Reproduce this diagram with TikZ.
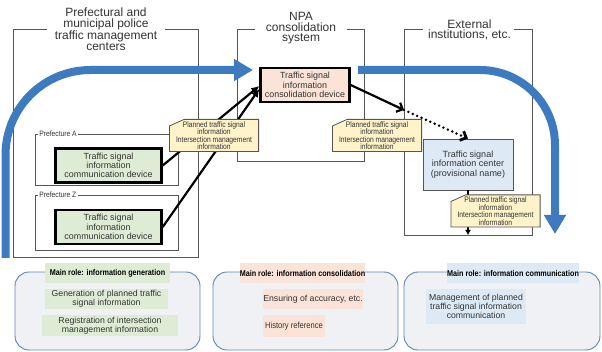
\documentclass[tikz,border=0pt]{standalone}
\usepackage{fontspec}
\setmainfont{Liberation Sans}
\newfontfamily\narrowfont[FakeStretch=0.86]{Liberation Sans}
\newfontfamily\tagfont[FakeStretch=0.84]{Liberation Sans}
\usetikzlibrary{arrows.meta}
\definecolor{ink}{HTML}{333333}
\definecolor{frame}{HTML}{555555}
\definecolor{flowblue}{HTML}{3D7AC0}
\definecolor{devgreen}{HTML}{DFECD5}
\definecolor{devpink}{HTML}{FCE3D8}
\definecolor{devblue}{HTML}{DDEAF6}
\definecolor{tagyellow}{HTML}{FFF3C9}
\definecolor{panelfill}{HTML}{EFF1F4}
\definecolor{panelline}{HTML}{5E86B3}
\begin{document}
\begin{tikzpicture}[x=1pt,y=-1pt,
  grouptitle/.style={text=ink, align=center, font=\fontsize{12}{10.8}\selectfont, inner sep=0pt},
  groupline/.style={draw=frame, line width=0.8pt},
  preflabel/.style={fill=white, text=ink, inner sep=1.2pt, anchor=west,
    font=\narrowfont\fontsize{7.8}{8}\selectfont},
  device/.style={draw=black, line width=2.4pt, text=ink, align=center,
    font=\fontsize{8.9}{9.2}\selectfont, inner sep=0pt},
  % label card with its top-left corner cut off
  infotag/.style={rectangle, inner sep=0pt, text=ink, align=center,
    font=\tagfont\fontsize{8}{7.5}\selectfont,
    minimum width=90pt, minimum height=33pt,
    path picture={
      \draw[draw=frame, line width=0.8pt, fill=tagyellow]
        ([xshift=0.4pt,yshift=-7pt]path picture bounding box.north west)
        -- ([xshift=15pt,yshift=-0.4pt]path picture bounding box.north west)
        -- ([xshift=-0.4pt,yshift=-0.4pt]path picture bounding box.north east)
        -- ([xshift=-0.4pt,yshift=0.4pt]path picture bounding box.south east)
        -- ([xshift=0.4pt,yshift=0.4pt]path picture bounding box.south west)
        -- cycle;
    }},
  link/.style={line width=2.2pt, draw=black},
  flow/.style={line width=8pt, draw=flowblue, -{Triangle[length=19pt,width=21pt]}},
  panel/.style={draw=panelline, line width=0.9pt, fill=panelfill, rounded corners=14pt,
    minimum height=78pt, inner sep=0pt},
  roletitle/.style={text=black, font=\narrowfont\bfseries\fontsize{8.4}{9}\selectfont,
    minimum height=20pt, inner sep=0pt},
  roleitem/.style={text=ink, align=center, font=\fontsize{8.7}{9.3}\selectfont, inner sep=0pt},
]
\useasboundingbox (0,0) rectangle (602,352);

% organisational frames, open at the top for their titles
\draw[groupline] (47,29) -| (13,257) -| (198,29) -- (165,29);
\draw[groupline] (255,29) -| (237,161) -| (364,29) -- (347,29);
\draw[groupline] (423,29) -| (404,235) -| (532,29) -- (514,29);
\node[grouptitle] (gPolice) at (106,29.6) {Prefectural and\\municipal police\\traffic management\\centers};
\node[grouptitle] (gNPA) at (301,28.3) {NPA\\consolidation\\system};
\node[grouptitle] (gExt) at (469.5,30) {External\\institutions, etc.};

% prefecture frames
\draw[groupline, line width=0.7pt] (35,134) rectangle (178,185);
\draw[groupline, line width=0.7pt] (35,195) rectangle (178,250);
\node[preflabel] (prefA) at (38,134) {Prefecture A};
\node[preflabel] (prefZ) at (38,195) {Prefecture Z};

% information flow
\coordinate (flowAstart) at (5.5,258);
\coordinate (flowAend) at (253,70);
\draw[flow, rounded corners=85pt] (flowAstart) |- (flowAend);
\coordinate (flowBstart) at (358,70);
\coordinate (flowBend) at (555,234);
\draw[flow, rounded corners=75pt] (flowBstart) -| (flowBend);

% devices
\node[device, fill=devgreen, minimum width=106pt, minimum height=34pt] (devA) at (108.5,165.5)
  {Traffic signal\\information\\communication device};
\node[device, fill=devgreen, minimum width=106pt, minimum height=34pt] (devZ) at (108.5,227)
  {Traffic signal\\information\\communication device};
\node[device, fill=devpink, minimum width=89pt, minimum height=34pt] (cons) at (305,85)
  {Traffic signal\\information\\consolidation device};
\node[draw=frame, line width=0.8pt, fill=devblue, text=ink, align=center,
  font=\fontsize{9}{9.2}\selectfont, minimum width=90pt, minimum height=51pt, inner sep=0pt]
  (ctr) at (468,164.5) {Traffic signal\\information center\\(provisional name)};

% data links
\draw[link, -{Latex[length=8pt,width=8pt]}] (devA.east) -- ([yshift=-1pt]cons.west);
\draw[link, -{Latex[length=8pt,width=8pt]}] (devZ.east) -- ([yshift=-4pt]cons.west);
\coordinate (relay) at (404,110);
\draw[link, -{Straight Barb[length=5pt,width=10pt]}] (cons.east) -- (relay);
\draw[link, line width=2.8pt, dash pattern=on 0pt off 4.8pt, line cap=round,
  -{Straight Barb[length=5pt,width=10pt]}] (relay) -- (ctr.north);
\coordinate (extBottom) at (468,235);
\draw[line width=1.6pt, -{Latex[length=5pt,width=6pt]}] (ctr.south) -- (extBottom);

% data tags
\node[infotag] (tagA) at (214,135.5) {Planned traffic signal\\information\\Intersection management\\information};
\node[infotag] (tagB) at (377,135.5) {Planned traffic signal\\information\\Intersection management\\information};
\node[infotag] (tagC) at (495.5,211) {Planned traffic signal\\information\\Intersection management\\information};

% role panels
\node[panel, minimum width=185pt] (roleGen) at (107.5,311) {};
\node[panel, minimum width=185pt] (roleCon) at (305.5,311) {};
\node[panel, minimum width=196pt] (roleCom) at (502,311) {};

\node[roletitle, fill=devgreen, minimum width=125pt] (genTitle) at (107.5,273) {Main role: information generation};
\node[roletitle, fill=devpink, minimum width=125pt] (conTitle) at (302.5,273) {Main role: information consolidation};
\node[roletitle, fill=devblue, minimum width=124pt] (comTitle) at (513,273) {Main role: information communication};

\node[roleitem, fill=devgreen, minimum width=123pt, minimum height=20pt] (genItemA) at (106.5,299)
  {Generation of planned traffic\\signal information};
\node[roleitem, fill=devgreen, minimum width=136pt, minimum height=21pt] (genItemB) at (110,325.5)
  {Registration of intersection\\management information};
\node[roleitem, fill=devpink, minimum width=100pt, minimum height=20pt] (conItemA) at (313,299)
  {Ensuring of accuracy, etc.};
\node[roleitem, fill=devpink, minimum width=62pt, minimum height=22pt,
  font=\narrowfont\fontsize{8.8}{9.3}\selectfont] (conItemB) at (294,326) {History reference};
\node[roleitem, fill=devblue, minimum width=100pt, minimum height=35pt] (comItem) at (476,306.5)
  {Management of planned\\traffic signal information\\communication};
\end{tikzpicture}
\end{document}
